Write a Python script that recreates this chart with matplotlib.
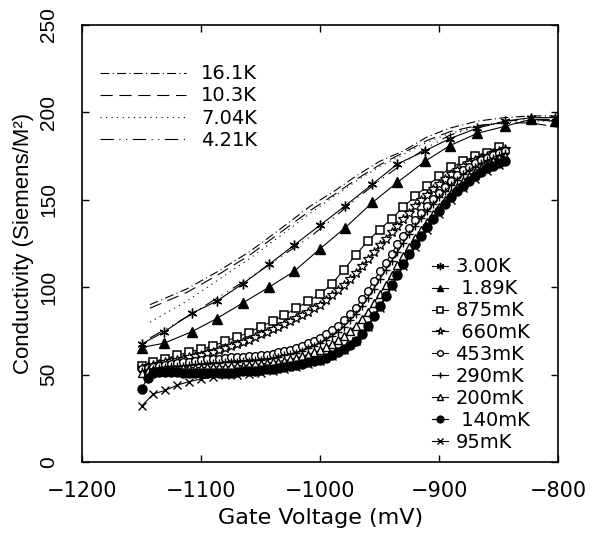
import matplotlib
matplotlib.use("Agg")
import matplotlib.pyplot as plt

# gate voltage (mV), 10 mV steps
v_dense = [-1150, -1140, -1130, -1120, -1110, -1100, -1090, -1080, -1070, -1060,
           -1050, -1040, -1030, -1020, -1010, -1000, -990, -980, -970, -960,
           -950, -940, -930, -920, -910, -900, -890, -880, -870, -860, -850]

# gate voltage (mV), 5 mV steps for the densest sweeps
v_fine = [-1150, -1145, -1140, -1135, -1130, -1125, -1120, -1115, -1110, -1105,
          -1100, -1095, -1090, -1085, -1080, -1075, -1070, -1065, -1060, -1055,
          -1050, -1045, -1040, -1035, -1030, -1025, -1020, -1015, -1010, -1005,
          -1000, -995, -990, -985, -980, -975, -970, -965, -960, -955,
          -950, -945, -940, -935, -930, -925, -920, -915, -910, -905,
          -900, -895, -890, -885, -880, -875, -870, -865, -860, -855,
          -850, -845]

s_875 = [55, 57, 59, 61, 63, 64.5, 66.5, 69, 71.5, 74,
         77.5, 80.5, 84, 88, 92, 96, 102, 110, 118.5, 126.5,
         133, 139, 146, 152, 158, 163.5, 168.5, 172, 175, 177, 180]
s_660 = [54, 54.8, 55.5, 56.2, 57, 57.8, 58.5, 59.2, 60, 60.8,
         61.5, 62.2, 63, 64, 65, 66.2, 67.5, 68.7, 70, 71.5,
         73, 74.5, 76, 77.5, 79, 80.7, 82.5, 84.2, 86, 88,
         90, 92.7, 95.5, 98.2, 101, 104.5, 108, 112, 116, 120,
         124, 127.7, 131.5, 135.2, 139, 142.7, 146.5, 149.7, 153, 156,
         159, 162, 165, 167.2, 169.5, 171, 172.5, 173.7, 175, 176.5,
         178, 179]
s_453 = [53, 54, 54.5, 55, 55.5, 56, 56.5, 57, 57.5, 58,
         58.5, 58.8, 59, 59.2, 59.5, 59.8, 60, 60.2, 60.5, 60.8,
         61, 61.5, 62, 62.7, 63.5, 64.2, 65, 66.5, 68, 69.5,
         71, 73, 75.5, 78, 81, 84.5, 88, 93, 98, 103.5,
         109, 114, 119, 124.5, 129.5, 134, 138.5, 142.5, 146.5, 150.5,
         154, 157.5, 161, 164, 167, 169, 171, 172.5, 174, 175.5,
         177, 178]
s_290 = [52, 53, 53.5, 54, 54.5, 54.8, 55, 55.2, 55.5, 55.8,
         56, 56.2, 56.5, 56.8, 57, 57.2, 57.5, 57.8, 58, 58.2,
         58.5, 59, 59.5, 60.2, 61, 61.7, 62.5, 63.7, 65, 66.5,
         68, 70, 72, 74.5, 77.5, 81, 84.5, 89, 94, 99,
         104.5, 110, 115, 120, 125.5, 130.5, 135, 139.5, 143.5, 147.5,
         151.5, 155, 158.5, 161.5, 164.5, 167, 169, 171, 172.5, 174,
         175.5, 176.5]
s_200 = [51, 52, 52.5, 52.8, 53, 53.2, 53.5, 53.8, 54, 54,
         54, 54.2, 54.5, 54.5, 54.5, 54.8, 55, 55.2, 55.5, 55.8,
         56, 56.5, 57, 57.5, 58, 58.7, 59.5, 60.5, 61.5, 62.7,
         64, 65.7, 67.5, 69.7, 72, 75, 78, 82, 86, 91,
         96, 101.5, 107, 112.5, 118, 123, 128, 133, 137.5, 142,
         146, 150, 154, 157.5, 160.5, 163.5, 166, 168, 170, 172,
         174, 175]
s_140 = [42, 48, 51, 51.5, 51.5, 51.5, 51.5, 51.2, 51, 51,
         51, 51, 51, 51, 51, 51.2, 51.5, 51.8, 52, 52.2,
         52.5, 53, 53.5, 54, 54.5, 55, 55.5, 56.2, 57, 57.7,
         58.5, 59.7, 61, 62.7, 64.5, 66.8, 69.5, 73.5, 78, 83.5,
         89, 95, 101, 107, 113, 119, 124.5, 129.5, 134.5, 139,
         143.5, 147.5, 151.5, 155, 158, 161, 163.5, 166, 168, 169.5,
         171, 172]
s_95 = [32, 39, 41, 44, 46, 47.5, 48.5, 49.5, 50, 50.5,
        51, 52, 53, 54.5, 56, 58, 60.5, 64, 69, 77,
        88, 100, 112, 123, 133, 142, 150, 156.5, 162, 166.5, 170]

# 3.00K and 1.89K sweeps
v_mid = [-1150, -1131, -1108, -1087, -1065, -1043, -1022, -1000, -979, -956,
         -935, -912, -891, -868, -845, -823, -803]
s_300 = [67.5, 74.5, 85, 92, 102, 113, 124, 135.5, 146.5, 159,
         170.5, 178, 185, 191, 195, 197, 197]
s_189 = [65.5, 68, 74.5, 82, 91, 100, 109, 122, 134, 148.5,
         160, 172, 181, 188, 192, 196, 195]

# high temperature sweeps (lines only)
v_high = [-1143, -1112, -1086, -1060, -1034, -1008, -988, -969, -950, -930,
          -910, -891, -868, -845, -823, -800]
s_161 = [90, 99, 109, 120, 133, 146.5, 155, 164, 172, 178,
         186, 191, 195, 197, 198, 198]
s_103 = [88, 97, 107, 118, 131, 144, 153, 162, 170, 177,
         184, 189, 192.5, 194, 194, 191.5]
s_704 = [80, 92, 104, 116, 129, 142.5, 152, 161, 169, 176,
         183, 188, 192, 194, 195, 195]
s_421 = [71, 83, 94, 105, 117, 129, 140, 151, 161, 171,
         180, 187, 192, 195, 196, 196]

x_ticks = [-1200, -1100, -1000, -900, -800]
y_ticks = [0, 50, 100, 150, 200, 250]

narrow = ['Liberation Sans', 'DejaVu Sans']

fig = plt.figure(figsize=(6.08, 5.4), dpi=100)
ax = fig.add_axes([0.135, 0.1444, 0.783, 0.8093])

lw = 0.8
h1 = []
h1 += ax.plot(v_high, s_161, color='k', lw=lw, dashes=(8, 3, 1, 3), label='16.1K')
h1 += ax.plot(v_high, s_103, color='k', lw=lw, dashes=(11, 6), label='10.3K')
h1 += ax.plot(v_high, s_704, color='k', lw=lw, dashes=(1, 4), label='7.04K')
h1 += ax.plot(v_high, s_421, color='k', lw=lw, dashes=(12, 5, 1, 5, 1, 5), label='4.21K')

h2 = []
h2 += ax.plot(v_mid, s_300, color='k', lw=lw, marker=(6, 2, 0), ms=7, mew=1.0, label='3.00K')
h2 += ax.plot(v_mid, s_189, color='k', lw=lw, marker='^', ms=6.5, label=' 1.89K')
h2 += ax.plot(v_dense, s_875, color='k', lw=lw, marker='s', ms=6, mfc='white', mew=1.1, label='875mK')
h2 += ax.plot(v_fine, s_660, color='k', lw=lw, marker='*', ms=7.5, mfc='white', mew=0.9, label=' 660mK')
h2 += ax.plot(v_fine, s_453, color='k', lw=lw, marker='o', ms=5.5, mfc='white', mew=1.0, label='453mK')
h2 += ax.plot(v_fine, s_290, color='k', lw=lw, marker='+', ms=6, mew=1.0, label='290mK')
h2 += ax.plot(v_fine, s_200, color='k', lw=lw, marker='^', ms=5.5, mfc='white', mew=1.0, label='200mK')
h2 += ax.plot(v_fine, s_140, color='k', lw=lw, marker='o', ms=6.5, label=' 140mK')
h2 += ax.plot(v_dense, s_95, color='k', lw=lw, marker='x', ms=5.5, mew=1.0, label='95mK')

ax.set_xlim(-1200, -800)
ax.set_ylim(0, 250)
ax.set_xticks(x_ticks)
ax.set_yticks(y_ticks)
ax.set_xticklabels(['\u22121200', '\u22121100', '\u22121000', '\u2212900', '\u2212800'], fontsize=15)
ax.set_yticklabels([str(v) for v in y_ticks], rotation=90, va='center',
                   family=narrow, fontsize=15)
ax.tick_params(direction='in', top=True, right=True, length=5, width=1)
ax.tick_params(axis='x', pad=14)
ax.tick_params(axis='y', pad=17)
for sp in ax.spines.values():
    sp.set_linewidth(1.2)

ax.set_xlabel('Gate Voltage (mV)', fontsize=16, labelpad=5)
ax.set_ylabel('Conductivity (Siemens/M\u00b2)', fontsize=16, family=narrow, labelpad=4)

leg1 = ax.legend(handles=h1, loc='upper left', bbox_to_anchor=(0.038, 0.91),
                 frameon=False, fontsize=14, handlelength=4.4, handletextpad=0.8,
                 labelspacing=0.16, borderpad=0, borderaxespad=0)
ax.add_artist(leg1)
ax.legend(handles=h2, loc='upper left', bbox_to_anchor=(0.735, 0.468),
          frameon=False, fontsize=14, handlelength=0.8, handletextpad=0.4,
          labelspacing=0.15, borderpad=0, borderaxespad=0, markerscale=0.75)

fig.savefig('out.png', dpi=100)
